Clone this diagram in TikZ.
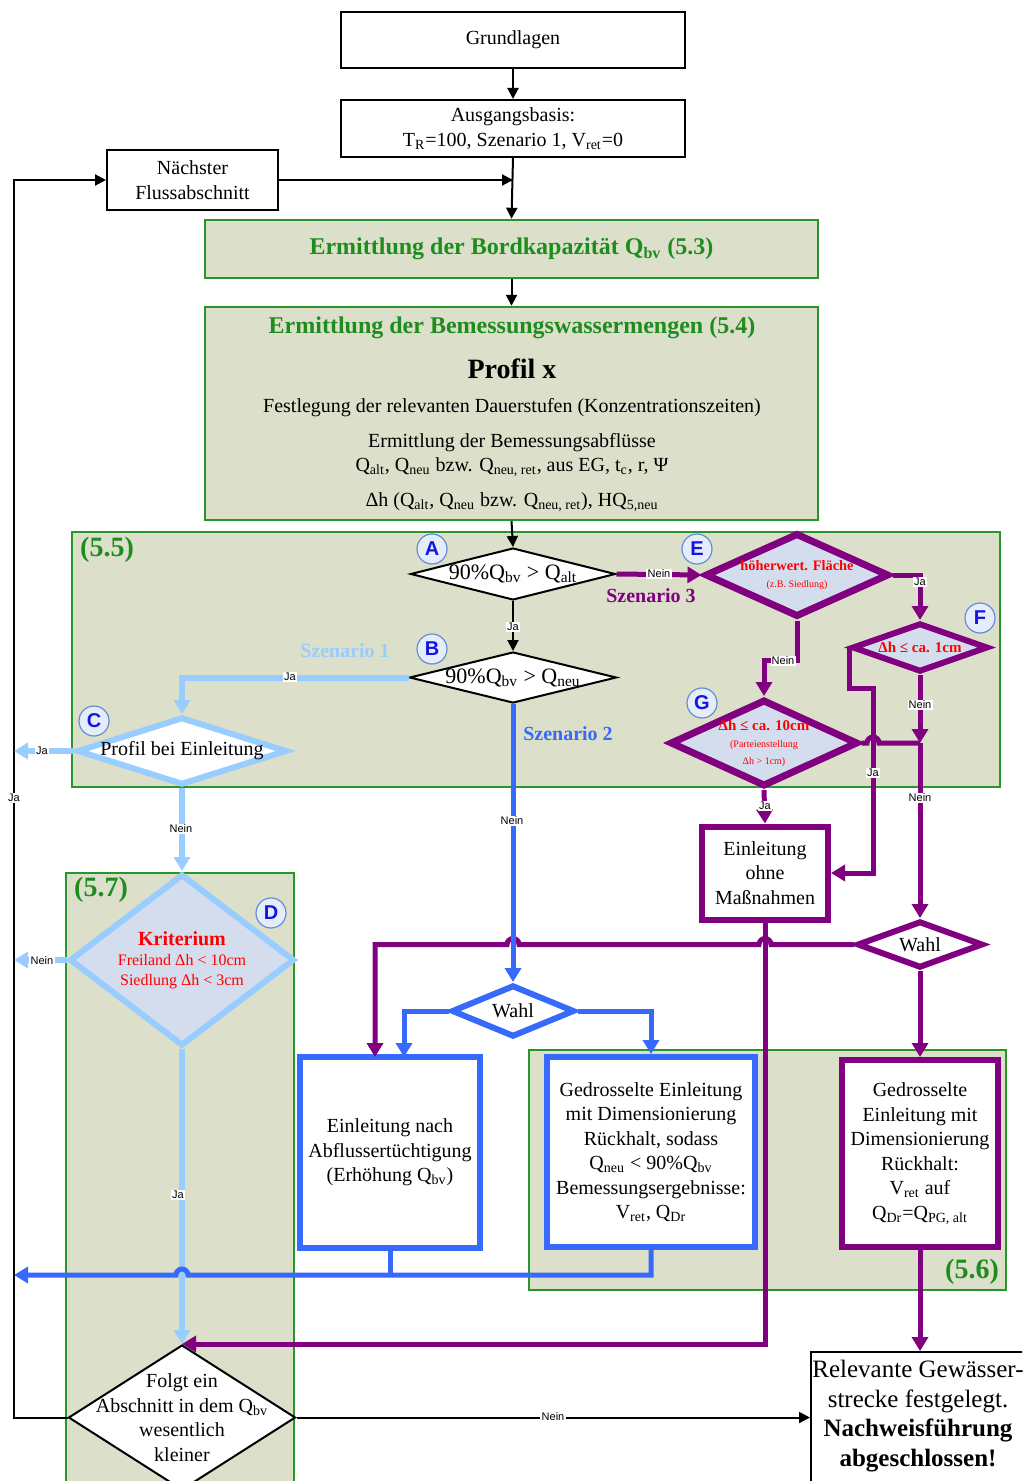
\documentclass[tikz,border=0pt]{standalone}
\usepackage{fontspec}
\setmainfont{Liberation Serif}
\newfontfamily\lsans{Liberation Sans}
\usetikzlibrary{arrows.meta,shapes.geometric}
\definecolor{grnfill}{RGB}{220,224,202}
\definecolor{grnline}{RGB}{40,150,40}
\definecolor{grntext}{RGB}{30,140,30}
\definecolor{mypurple}{RGB}{128,0,128}
\definecolor{myblue}{RGB}{55,105,250}
\definecolor{ltblue}{RGB}{153,204,255}
\definecolor{hatch}{RGB}{212,221,238}
\definecolor{tagfill}{RGB}{230,237,250}
\definecolor{tagline}{RGB}{100,140,210}
\definecolor{tagtext}{RGB}{20,20,230}
\newcommand{\fsz}[2]{\fontsize{#1}{#2}\selectfont}
\newcommand{\lsub}[1]{\textsubscript{#1}}
\begin{document}
\begin{tikzpicture}[x=0.5pt,y=-0.5pt,
  every node/.style={font=\fsz{10}{12.25}},
  blackbox/.style={rectangle, draw=black, line width=1pt, fill=white, align=center, inner sep=0pt},
  greenbox/.style={rectangle, draw=grnline, line width=1.2pt, fill=grnfill, align=center, inner sep=0pt},
  region/.style={rectangle, draw=grnline, line width=0.9pt, fill=grnfill, inner sep=0pt},
  bluebox/.style={rectangle, draw=myblue, line width=3pt, fill=white, align=center, inner sep=0pt},
  purplebox/.style={rectangle, draw=mypurple, line width=3pt, fill=white, align=center, inner sep=0pt},
  dia/.style={diamond, inner sep=0pt},
  tag/.style={circle, draw=tagline, fill=tagfill, line width=0.6pt, minimum size=15pt, inner sep=0pt, font=\lsans\bfseries\fsz{10}{12}, text=tagtext},
  yn/.style={fill=white, inner sep=0.6pt, font=\lsans\fsz{5.5}{6.5}},
  sect/.style={font=\bfseries\fsz{14}{16}, text=grntext, inner sep=0pt},
  scen/.style={font=\bfseries\fsz{10}{12}, inner sep=0pt},
  redt/.style={text=red, align=center},
  karr/.style={draw=black, line width=1pt, -{Triangle[length=5.5pt,width=5.5pt]}},
  parr/.style={draw=mypurple, line width=2.5pt, -{Triangle[length=7pt,width=8pt]}},
  pline/.style={draw=mypurple, line width=2.5pt},
  barr/.style={draw=myblue, line width=2.5pt, -{Triangle[length=7pt,width=8pt]}},
  bline/.style={draw=myblue, line width=2.5pt},
  larr/.style={draw=ltblue, line width=3pt, -{Triangle[length=7pt,width=8pt]}},
]
\useasboundingbox (0,0) rectangle (1022,1481);
\clip (0,0) rectangle (1022,1481);

% regions
\node[region, minimum width=464pt, minimum height=127.5pt] (r55) at (536,659.5) {};
\node[region, minimum width=114pt, minimum height=310pt] (r57) at (180,1183) {};
\node[region, minimum width=238.5pt, minimum height=120pt] (r56) at (767.5,1170) {};
\node[sect] (s55) at (107,550) {(5.5)};
\node[sect] (s57) at (101,890) {(5.7)};
\node[sect] (s56) at (972,1272) {(5.6)};

% top boxes
\node[blackbox, minimum width=172pt, minimum height=28pt] (grund) at (513,40) {Grundlagen};
\node[blackbox, minimum width=172pt, minimum height=28.5pt] (ausg) at (513,128.5) {Ausgangsbasis:\\T\lsub{R}=100, Szenario 1, V\lsub{ret}=0};
\node[blackbox, minimum width=85.5pt, minimum height=30pt] (naechst) at (192.5,180) {Nächster\\Flussabschnitt};
\node[greenbox, minimum width=306.5pt, minimum height=29pt, font=\bfseries\fsz{12}{14}, text=grntext] (bord) at (511.5,249) {Ermittlung der Bordkapazität Q\lsub{bv} (5.3)};
\node[greenbox, minimum width=306.5pt, minimum height=106.5pt] (bemess) at (511.5,413.5) {};
\node[font=\bfseries\fsz{12}{14}, text=grntext] (bt1) at (512,328) {Ermittlung der Bemessungswassermengen (5.4)};
\node[font=\bfseries\fsz{14}{16}] (bt2) at (512,369) {Profil x};
\node (bt3) at (512,408) {Festlegung der relevanten Dauerstufen (Konzentrationszeiten)};
\node[align=center] (bt4) at (512,455) {Ermittlung der Bemessungsabflüsse\\Q\lsub{alt}, Q\lsub{neu} bzw. Q\lsub{neu, ret}, aus EG, t\lsub{c}, r, Ψ};
\node (bt5) at (512,502) {Δh (Q\lsub{alt}, Q\lsub{neu} bzw. Q\lsub{neu, ret}), HQ\lsub{5,neu}};

% diamonds
\node[dia, draw=black, line width=1pt, fill=white, minimum width=102.5pt, minimum height=26pt, label={[font=\fsz{11}{13}]center:{90\%Q\lsub{bv} > Q\lsub{alt}}}] (A) at (513,574) {};
\node[dia, draw=black, line width=1pt, fill=white, minimum width=103.5pt, minimum height=25.5pt, label={[font=\fsz{11}{13}]center:{90\%Q\lsub{bv} > Q\lsub{neu}}}] (B) at (513,677.5) {};
\node[dia, draw=ltblue, line width=3pt, fill=white, minimum width=105pt, minimum height=34pt, label={center:{Profil bei Einleitung}}] (C) at (182,751) {};
\node[dia, draw=ltblue, line width=3pt, fill=hatch, minimum width=112.5pt, minimum height=86pt, label={[redt, font=\fsz{8}{10}]center:{{\bfseries\fsz{10}{12}Kriterium}\\Freiland Δh < 10cm\\Siedlung Δh < 3cm}}] (D) at (182,960) {};
\node[dia, draw=mypurple, line width=3.5pt, fill=hatch, minimum width=92pt, minimum height=42pt, label={[redt, font=\fsz{7.2}{8.5}]center:{{\bfseries höherwert. Fläche}\\{\fsz{5}{6}(z.B. Siedlung)}}}] (E) at (797,575) {};
\node[dia, draw=mypurple, line width=3pt, fill=hatch, minimum width=68pt, minimum height=24.5pt, label={[redt, font=\bfseries\fsz{7.5}{9}]center:{Δh ≤ ca. 1cm}}] (F) at (920,647.5) {};
\node[dia, draw=mypurple, line width=3.5pt, fill=hatch, minimum width=94pt, minimum height=43.5pt, label={[redt, font=\fsz{7.5}{8.5}]center:{{\bfseries Δh ≤ ca. 10cm}\\{\fsz{5}{7}(Parteienstellung}\\{\fsz{5}{7}Δh > 1cm)}}}] (G) at (764,743) {};
\node[dia, draw=myblue, line width=3pt, fill=white, minimum width=61.5pt, minimum height=26pt, label={center:Wahl}] (wahlb) at (513,1011) {};
\node[dia, draw=mypurple, line width=3pt, fill=white, minimum width=63pt, minimum height=23.5pt, label={center:Wahl}] (wahlp) at (920,944.5) {};
\node[dia, draw=black, line width=1pt, fill=white, minimum width=113.5pt, minimum height=72.5pt, label={[align=center]center:{Folgt ein\\Abschnitt in dem Q\lsub{bv}\\wesentlich\\kleiner}}] (folgt) at (182,1417.5) {};

% boxes
\node[purplebox, minimum width=63pt, minimum height=46.5pt] (einlohne) at (765,873) {Einleitung\\ohne\\Maßnahmen};
\node[bluebox, minimum width=90pt, minimum height=95.5pt] (einlnach) at (390,1152.5) {Einleitung nach\\Abflussertüchtigung\\(Erhöhung Q\lsub{bv})};
\node[bluebox, minimum width=104pt, minimum height=95pt] (gedb) at (651,1152) {Gedrosselte Einleitung\\mit Dimensionierung\\Rückhalt, sodass\\Q\lsub{neu} < 90\%Q\lsub{bv}\\Bemessungsergebnisse:\\V\lsub{ret}, Q\lsub{Dr}};
\node[purplebox, minimum width=78pt, minimum height=93.5pt] (gedp) at (920,1153.5) {Gedrosselte\\Einleitung mit\\Dimensionierung\\Rückhalt:\\V\lsub{ret} auf\\Q\lsub{Dr}=Q\lsub{PG, alt}};
\node[rectangle, draw=black, line width=1pt, fill=white, minimum width=109pt, minimum height=70pt, inner sep=0pt] (relev) at (920,1422) {};
\node[align=center, font=\fsz{12.5}{14.75}] (relevt) at (918,1416) {Relevante Gewässer-\\strecke festgelegt.\\\textbf{Nachweisführung}\\\textbf{abgeschlossen!}};

% black connectors
\coordinate (j1) at (513,180);
\draw[karr] (grund.south) -- (ausg.north);
\draw[karr] (ausg.south) -- (bord.north);
\draw[karr] (naechst.east) -- (j1);
\draw[karr] (bord.south) -- (bemess.north);
\draw[karr] (bemess.south) -- (A.north);
\draw[karr] (A.south) -- (B.north);
\coordinate (fL) at (14,1417.5);
\coordinate (nL) at (14,180);
\draw[karr] (folgt.west) -- (fL) -- (nL) -- (naechst.west);
\draw[karr] (folgt.east) -- (folgt.east -| relev.west);

% purple connectors
\draw[parr] (A.east) -- (E.west);
\draw[parr] (E.east) -| (F.north);
\draw[parr] (E.south) -- (797,660) -| (G.north);
\coordinate (jF) at (873,688);
\draw[parr] (F.west) |- (jF) |- (einlohne.east);
\coordinate (jFG) at (920,743);
\draw[parr] (F.south) -- (jFG);
\draw[pline] (G.east) -- (867,743) arc[start angle=180,end angle=0,radius=3pt] -- (jFG);
\draw[parr] (jFG) -- (wahlp.north);
\draw[parr] (G.south) -- (einlohne.north);
\draw[parr] (einlohne.south) |- (folgt.north);
\coordinate (enP) at (375,1057);
\draw[parr] (wahlp.west) -- (771,944.5) arc[start angle=0,end angle=180,radius=3pt] -- (519,944.5) arc[start angle=0,end angle=180,radius=3pt] -| (enP);
\draw[parr] (wahlp.south) -- (gedp.north);
\draw[parr] (gedp.south) -- (relev.north);

% light blue connectors
\coordinate (eC) at (14,751);
\coordinate (eD) at (14,960);
\draw[larr] (B.west) -| (C.north);
\draw[larr] (C.west) -- (eC);
\draw[larr] (C.south) -- (D.north);
\draw[larr] (D.west) -- (eD);
\draw[larr] (D.south) -- (folgt.north);

% blue connectors
\coordinate (enB) at (404,1057);
\coordinate (jB) at (390,1275);
\coordinate (eB) at (14,1275);
\draw[barr] (B.south) -- (wahlb.north);
\draw[barr] (wahlb.west) -| (enB);
\draw[barr] (wahlb.east) -| (gedb.north);
\draw[bline] (einlnach.south) -- (jB);
\draw[barr] (gedb.south) |- (188,1275) arc[start angle=0,end angle=180,radius=3pt] -- (eB);

% yes/no labels
\node[yn] (y1) at (513,627) {Ja};
\node[yn] (y2) at (659,574) {Nein};
\node[yn] (y3) at (920,582) {Ja};
\node[yn] (y4) at (783,661) {Nein};
\node[yn] (y5) at (920,705) {Nein};
\node[yn] (y6) at (873,773) {Ja};
\node[yn] (y7) at (920,798) {Nein};
\node[yn] (y8) at (765,806) {Ja};
\node[yn] (y9) at (290,677) {Ja};
\node[yn] (y10) at (512,821) {Nein};
\node[yn] (y11) at (42,751) {Ja};
\node[yn] (y12) at (181,829) {Nein};
\node[yn] (y13) at (42,961) {Nein};
\node[yn] (y14) at (178,1195) {Ja};
\node[yn] (y15) at (553,1417) {Nein};
\node[yn] (y16) at (14,798) {Ja};

% scenario texts
\node[scen, text=mypurple] (sc3) at (651,596) {Szenario 3};
\node[scen, text=ltblue] (sc1) at (345,651) {Szenario 1};
\node[scen, text=myblue] (sc2) at (568,734) {Szenario 2};

% tags
\node[tag] (tA) at (432,549) {A};
\node[tag] (tB) at (432,649) {B};
\node[tag] (tC) at (94,721) {C};
\node[tag] (tD) at (271,913) {D};
\node[tag] (tE) at (697,549) {E};
\node[tag] (tF) at (980,618) {F};
\node[tag] (tG) at (702,703) {G};
\end{tikzpicture}
\end{document}
